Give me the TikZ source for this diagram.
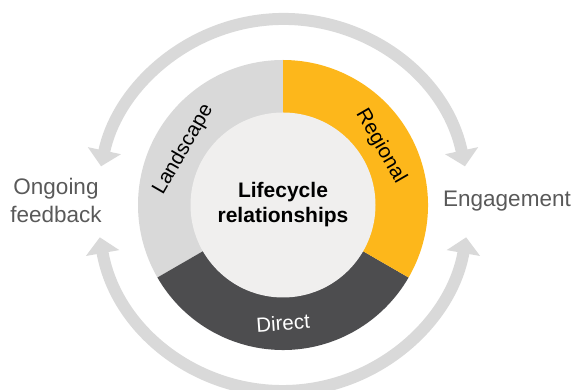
\documentclass[tikz,border=0pt]{standalone}
\usepackage{fontspec}
\setmainfont{Liberation Sans}
\usetikzlibrary{arrows.meta,calc}
\definecolor{bandgray}{HTML}{D9D9D9}
\definecolor{segyellow}{HTML}{FDB71B}
\definecolor{segdark}{HTML}{4D4D4F}
\definecolor{innerfill}{HTML}{F0EFEE}
\definecolor{sidetext}{HTML}{595959}
\tikzset{
  arrowband/.style={draw=bandgray, line width=12pt,
    {Triangle[width=33pt,length=16pt]}-{Triangle[width=33pt,length=16pt]}},
  seglabel/.style={font=\fontsize{20.5}{24}\selectfont, inner sep=0pt},
  sidelabel/.style={font=\fontsize{22.5}{26}\selectfont, text=sidetext, inner sep=0pt},
  centerlabel/.style={font=\bfseries\fontsize{21}{25}\selectfont, inner sep=0pt}
}
\begin{document}
\begin{tikzpicture}[x=1pt,y=1pt]
\useasboundingbox (0,0) rectangle (574,390);
\clip (0,0) rectangle (574,390);
\coordinate (c) at (283,185);
% segments
\fill[bandgray] (c) -- ($(c)+(90:145)$) arc[start angle=90, end angle=210, radius=145] -- cycle;
\fill[segdark] (c) -- ($(c)+(210:145)$) arc[start angle=210, end angle=330, radius=145] -- cycle;
\fill[segyellow] (c) -- ($(c)+(-30:145)$) arc[start angle=-30, end angle=90, radius=145] -- cycle;
\fill[innerfill] (c) circle[radius=92.5];
% outer arrows
\coordinate (ta) at ($(c)+(12:186)$);
\coordinate (tb) at ($(c)+(168:186)$);
\coordinate (ba) at ($(c)+(190:186)$);
\coordinate (bb) at ($(c)+(350:186)$);
\draw[arrowband] (ta) arc[start angle=12, end angle=168, radius=186];
\draw[arrowband] (ba) arc[start angle=190, end angle=350, radius=186];
% labels
\node[seglabel, rotate=60] (land) at ($(c)+(151:114)$) {Landscape};
\node[seglabel, rotate=-60] (reg) at ($(c)+(31:114)$) {Regional};
\node[seglabel, rotate=4, text=white] (dir) at ($(c)+(270:118)$) {Direct};
\node[centerlabel, anchor=base] (lc1) at (283,192) {Lifecycle};
\node[centerlabel, anchor=base] (lc2) at (283,167) {relationships};
\node[sidelabel, anchor=base] (og1) at (56,195) {Ongoing};
\node[sidelabel, anchor=base] (og2) at (56,167) {feedback};
\node[sidelabel, anchor=base west] (eng) at (443,183) {Engagement};
\end{tikzpicture}
\end{document}
